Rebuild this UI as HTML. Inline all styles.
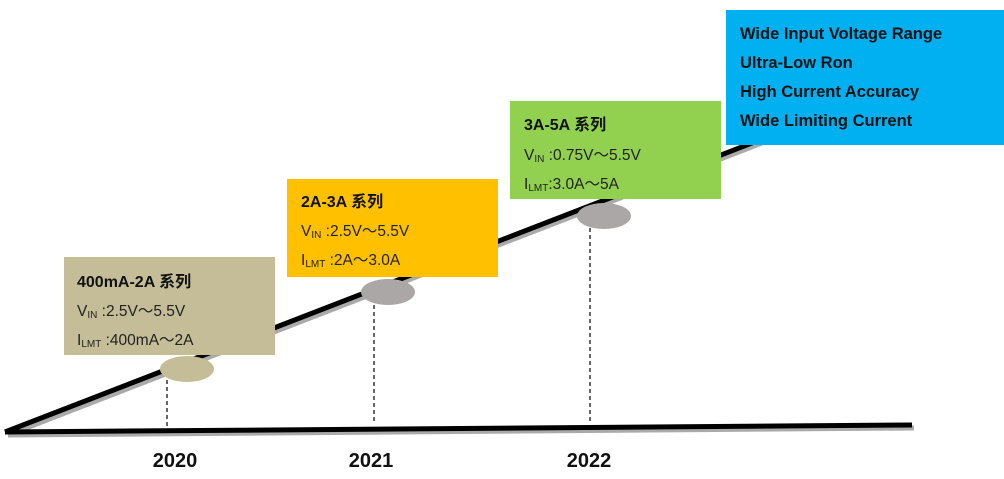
<!DOCTYPE html>
<html><head><meta charset="utf-8"><style>
html,body{margin:0;padding:0;background:#fff;}
svg{display:block;font-family:"Liberation Sans","Noto Sans CJK SC",sans-serif;}
.t{font-weight:bold;font-size:16px;fill:#111;}
.l{font-size:15.5px;fill:#222;}
.s{font-size:10px;}
.y{font-weight:bold;font-size:20px;fill:#111;}
.b{font-weight:bold;font-size:16.5px;fill:#111;}
</style></head><body>
<svg width="1004" height="479" viewBox="0 0 1004 479">
<g>
<line x1="8" y1="435" x2="914" y2="428" stroke="#aaa" stroke-width="5"/>
<line x1="8" y1="435" x2="860" y2="105" stroke="#aaa" stroke-width="5"/>
<line x1="5" y1="432" x2="912" y2="425" stroke="#000" stroke-width="5"/>
<line x1="5" y1="432" x2="858" y2="102" stroke="#000" stroke-width="5"/>
</g>
<g stroke="#000" stroke-width="1.2" stroke-dasharray="4,3">
<line x1="167" y1="380" x2="167" y2="426"/>
<line x1="374" y1="305" x2="374" y2="423"/>
<line x1="590" y1="228" x2="590" y2="421"/>
</g>
<ellipse cx="187" cy="369" rx="27" ry="13" fill="#c4bd97"/>
<ellipse cx="388" cy="292" rx="27" ry="13" fill="#aba7a6"/>
<ellipse cx="604" cy="216" rx="27" ry="13" fill="#aba7a6"/>

<g>
<rect x="64" y="257" width="211" height="98" fill="#c4bd97"/>
<text x="77" y="287" class="t">400mA-2A  系列</text>
<text x="77" y="316" class="l">V<tspan class="s" dy="2">IN</tspan><tspan dy="-2"> :2.5V～5.5V</tspan></text>
<text x="77" y="345" class="l">I<tspan class="s" dy="2">LMT</tspan><tspan dy="-2"> :400mA～2A</tspan></text>
</g>
<g>
<rect x="287" y="179" width="211" height="98" fill="#ffc000"/>
<text x="301" y="207" class="t">2A-3A  系列</text>
<text x="301" y="236" class="l">V<tspan class="s" dy="2">IN</tspan><tspan dy="-2"> :2.5V～5.5V</tspan></text>
<text x="301" y="265" class="l">I<tspan class="s" dy="2">LMT</tspan><tspan dy="-2"> :2A～3.0A</tspan></text>
</g>
<g>
<rect x="510" y="101" width="211" height="98" fill="#92d050"/>
<text x="524" y="130" class="t">3A-5A  系列</text>
<text x="524" y="160" class="l">V<tspan class="s" dy="2">IN</tspan><tspan dy="-2"> :0.75V～5.5V</tspan></text>
<text x="524" y="189" class="l">I<tspan class="s" dy="2">LMT</tspan><tspan dy="-2">:3.0A～5A</tspan></text>
</g>
<g>
<rect x="726" y="10" width="278" height="135" fill="#00b0f0"/>
<text x="740" y="39" class="b">Wide Input Voltage Range</text>
<text x="740" y="68" class="b">Ultra-Low Ron</text>
<text x="740" y="97" class="b">High Current Accuracy</text>
<text x="740" y="126" class="b">Wide Limiting Current</text>
</g>
<text x="175" y="467" class="y" text-anchor="middle">2020</text>
<text x="371" y="467" class="y" text-anchor="middle">2021</text>
<text x="589" y="467" class="y" text-anchor="middle">2022</text>
</svg>
</body></html>
